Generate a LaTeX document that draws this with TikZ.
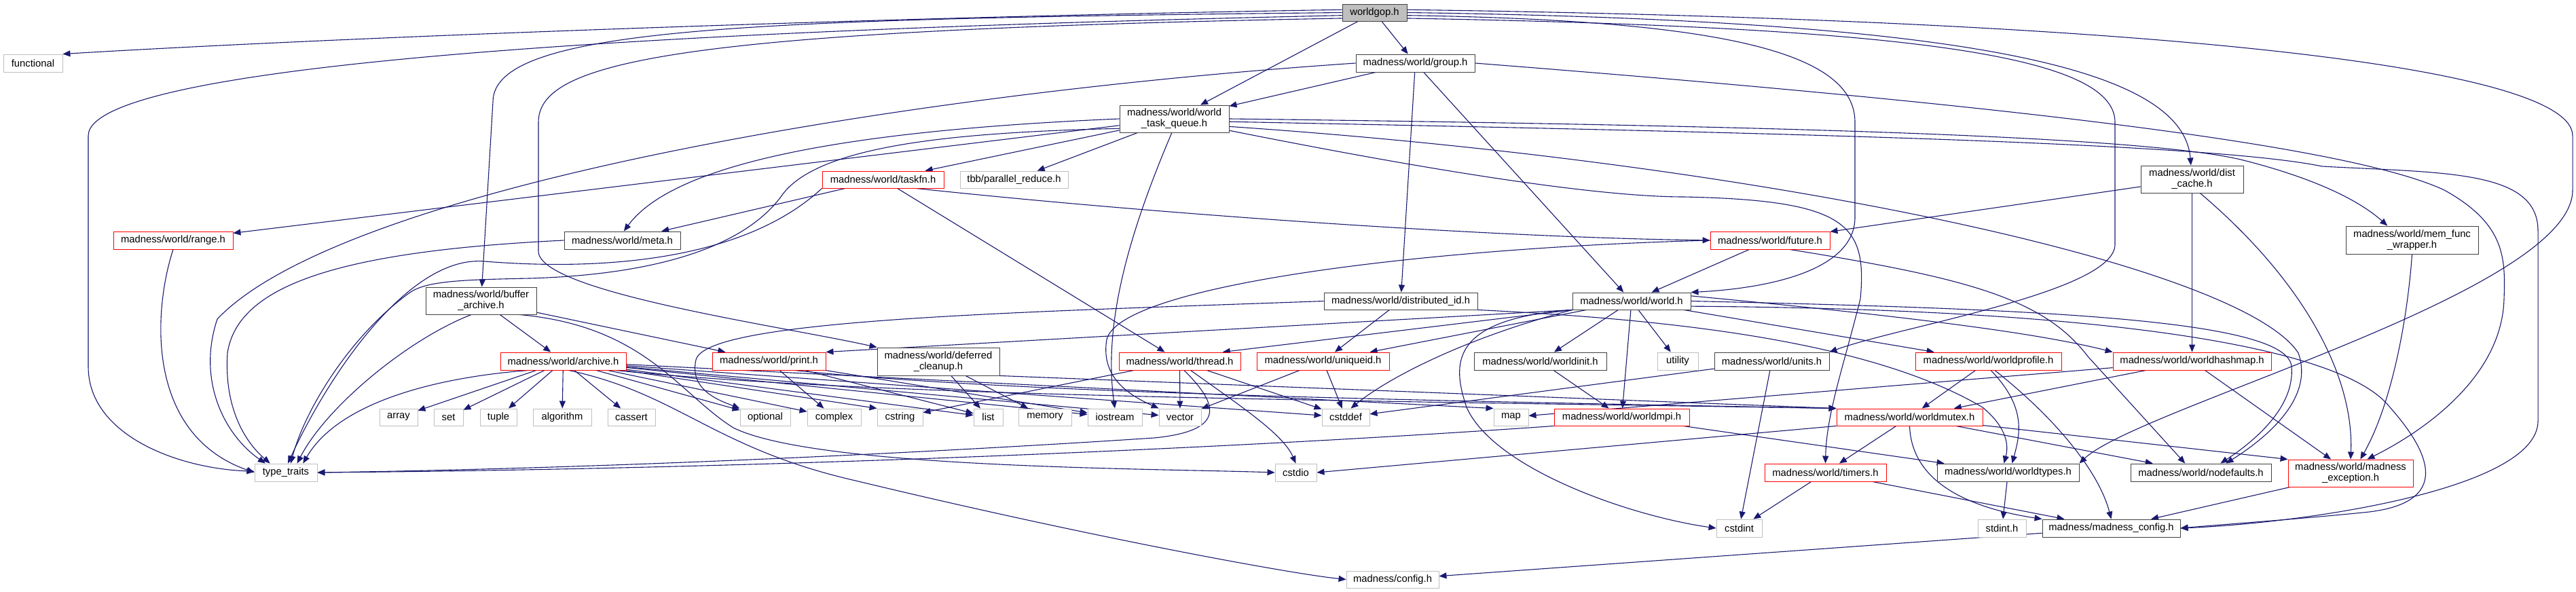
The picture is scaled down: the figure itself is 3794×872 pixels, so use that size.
\documentclass[tikz,border=0pt]{standalone}
\usepackage{fontspec}
\setmainfont{Liberation Sans}
\usetikzlibrary{arrows.meta,backgrounds}
\definecolor{edgeblue}{HTML}{191970}
\definecolor{boxgray}{HTML}{BFBFBF}
\definecolor{boxblack}{HTML}{404040}
\definecolor{boxred}{HTML}{FF0000}
\newcommand{\dgfont}{\fontsize{7.4pt}{8pt}\selectfont}
\begin{document}
\begin{tikzpicture}[x=0.5pt,y=-0.5pt,
  nb/.style={draw=boxblack, line width=0.45pt, fill=white, inner sep=0pt, align=center, font=\dgfont, text=black},
  nr/.style={nb, draw=boxred},
  ng/.style={nb, draw=boxgray},
  sz/.style 2 args={minimum width=#1, minimum height=#2},
  e/.style={draw=edgeblue, line width=0.55pt, -{Triangle[length=5.5pt,width=4.5pt]}}]
\useasboundingbox (0,0) rectangle (3794,872);
% ---------------- nodes ----------------
\node[nb,sz={47.5pt}{12.5pt},fill=boxgray] (gop) at (2024.5,18.5) {worldgop.h};
\node[ng,sz={43.5pt}{13pt}] (functional) at (48.5,93) {functional};
\node[nb,sz={87.5pt}{13pt}] (group) at (2084.5,93) {madness/world/group.h};
\node[nb,sz={80.5pt}{20pt}] (wtq) at (1729.5,175) {madness/world/world\\\_task\_queue.h};
\node[nr,sz={89.5pt}{12.5pt}] (taskfn) at (1300.5,264.5) {madness/world/taskfn.h};
\node[ng,sz={79.5pt}{12.5pt}] (tbb) at (1493.5,264.5) {tbb/parallel\_reduce.h};
\node[nb,sz={75.5pt}{20pt}] (distcache) at (3228.5,264) {madness/world/dist\\\_cache.h};
\node[nr,sz={88pt}{13pt}] (range) at (255,354) {madness/world/range.h};
\node[nb,sz={85.5pt}{13pt}] (meta) at (916.5,354) {madness/world/meta.h};
\node[nr,sz={88pt}{13pt}] (future) at (2607,354) {madness/world/future.h};
\node[nb,sz={97.5pt}{20.5pt}] (memfunc) at (3552.5,353.5) {madness/world/mem\_func\\\_wrapper.h};
\node[nb,sz={81.5pt}{20pt}] (buffer) at (708.5,443) {madness/world/buffer\\\_archive.h};
\node[nb,sz={113pt}{12.5pt}] (distid) at (2063,443.5) {madness/world/distributed\_id.h};
\node[nb,sz={87pt}{12.5pt}] (world) at (2403,443.5) {madness/world/world.h};
\node[nr,sz={92.5pt}{13pt}] (archive) at (829.5,532) {madness/world/archive.h};
\node[nr,sz={83.5pt}{13pt}] (print) at (1132.5,532) {madness/world/print.h};
\node[nb,sz={90pt}{20.5pt}] (deferred) at (1382,532.5) {madness/world/deferred\\\_cleanup.h};
\node[nr,sz={89.5pt}{13pt}] (thread) at (1737.5,532) {madness/world/thread.h};
\node[nr,sz={97.5pt}{13pt}] (uniqueid) at (1948.5,532) {madness/world/uniqueid.h};
\node[nb,sz={97.5pt}{13pt}] (worldinit) at (2268.5,532) {madness/world/worldinit.h};
\node[ng,sz={30pt}{13pt}] (utility) at (2471,532) {utility};
\node[nb,sz={84.5pt}{13pt}] (units) at (2609.5,532) {madness/world/units.h};
\node[nr,sz={107.5pt}{13pt}] (profile) at (2928.5,532) {madness/world/worldprofile.h};
\node[nr,sz={116.5pt}{13pt}] (hashmap) at (3228.5,532) {madness/world/worldhashmap.h};
\node[ng,sz={28pt}{12.5pt}] (array) at (587,614.5) {array};
\node[ng,sz={21.5pt}{12.5pt}] (set) at (660.5,614.5) {set};
\node[ng,sz={27pt}{12.5pt}] (tuple) at (734,614.5) {tuple};
\node[ng,sz={43pt}{12.5pt}] (algorithm) at (828,614.5) {algorithm};
\node[ng,sz={35pt}{12.5pt}] (cassert) at (930,614.5) {cassert};
\node[ng,sz={37pt}{12.5pt}] (optional) at (1127,614.5) {optional};
\node[ng,sz={39.5pt}{12.5pt}] (complex) at (1228.5,614.5) {complex};
\node[ng,sz={33.5pt}{12.5pt}] (cstring) at (1325.5,614.5) {cstring};
\node[ng,sz={21.5pt}{12.5pt}] (list) at (1455.5,614.5) {list};
\node[ng,sz={39pt}{12.5pt}] (memory) at (1539,614.5) {memory};
\node[ng,sz={40pt}{12.5pt}] (iostream) at (1642,614.5) {iostream};
\node[ng,sz={31pt}{12.5pt}] (vector) at (1738,614.5) {vector};
\node[ng,sz={35pt}{12.5pt}] (cstddef) at (1982,614.5) {cstddef};
\node[ng,sz={25.5pt}{12.5pt}] (map) at (2225.5,614.5) {map};
\node[nr,sz={99.5pt}{12.5pt}] (worldmpi) at (2388.5,614.5) {madness/world/worldmpi.h};
\node[nr,sz={107.5pt}{12.5pt}] (mutex) at (2812.5,614.5) {madness/world/worldmutex.h};
\node[ng,sz={46pt}{13pt}] (typetraits) at (421,696) {type\_traits};
\node[ng,sz={30.5pt}{13pt}] (cstdio) at (1908.5,696) {cstdio};
\node[nr,sz={89.5pt}{13pt}] (timers) at (2688.5,696) {madness/world/timers.h};
\node[nb,sz={104.5pt}{13pt}] (worldtypes) at (2957.5,696) {madness/world/worldtypes.h};
\node[nb,sz={103.5pt}{13pt}] (nodefaults) at (3241.5,696) {madness/world/nodefaults.h};
\node[nr,sz={92pt}{20pt}] (mexc) at (3462,697) {madness/world/madness\\\_exception.h};
\node[ng,sz={33.5pt}{13pt}] (cstdint) at (2561.5,778) {cstdint};
\node[ng,sz={35.5pt}{13pt}] (stdint) at (2948.5,778) {stdint.h};
\node[nb,sz={101.5pt}{13pt}] (mconfig) at (3109.5,778) {madness/madness\_config.h};
\node[ng,sz={68pt}{12.5pt}] (config) at (2051,853.5) {madness/config.h};
% ---------------- edges ----------------
\begin{pgfonlayer}{background}
\fill[white] (0,0) rectangle (3794,872);
\foreach \a/\b in {gop/wtq, gop/group, group/wtq, group/distid, group/world,
  wtq/taskfn, wtq/tbb, wtq/range, taskfn/meta, taskfn/thread,
  distcache/future, distcache/hashmap, future/world, buffer/archive, buffer/print,
  distid/uniqueid, world/worldinit, world/worldmpi, world/utility, world/uniqueid, world/profile,
  archive/array, archive/set, archive/tuple, archive/algorithm, archive/cassert,
  archive/optional, archive/complex, archive/list, archive/iostream, archive/vector, archive/cstddef,
  print/complex, print/list, print/iostream, deferred/list, deferred/memory,
  thread/vector, thread/cstring, thread/cstddef, uniqueid/cstddef, uniqueid/vector,
  worldinit/worldmpi, units/cstdint, units/cstddef, profile/mutex, hashmap/mutex, hashmap/map,
  hashmap/mexc, worldmpi/worldtypes, mutex/timers, mutex/nodefaults, timers/cstdint,
  timers/mconfig, worldtypes/stdint, mexc/mconfig, mconfig/config}
  \draw[e] (\a) -- (\b);
% worldgop
\draw[e] (gop.175) .. controls (1300,25) and (500,55) .. (functional.north east);
\draw[e] (gop.185) .. controls (1200,40) and (130,80) .. (130,200) -- (130,540) .. controls (130,640) and (260,690) .. (typetraits);
\draw[e] (gop.180) .. controls (1100,28) and (726,40) .. (726,150) -- (buffer);
\draw[e] (gop.190) .. controls (1000,45) and (793,90) .. (793,180) -- (793,370) .. controls (793,430) and (1150,480) .. (deferred.north west);
\draw[e] (gop.-5) .. controls (2550,30) and (2732,80) .. (2732,180) -- (2732,320) .. controls (2732,400) and (2600,425) .. (world.north east);
\draw[e] (gop.-10) .. controls (2800,40) and (3115,80) .. (3115,180) -- (3115,360) .. controls (3115,430) and (2800,480) .. (units.north east);
\draw[e] (gop.0) .. controls (2900,30) and (3215,100) .. (distcache);
\draw[e] (gop.5) .. controls (3200,30) and (3789,100) .. (3789,200) -- (3789,280) .. controls (3789,430) and (3150,600) .. (worldtypes.north east);
% group
\draw[e] (group.west) .. controls (1300,140) and (500,280) .. (320,470) .. controls (290,560) and (330,640) .. (typetraits.156);
\draw[e] (group.east) .. controls (2900,150) and (3450,210) .. (3600,280) .. controls (3690,330) and (3690,380) .. (3688,440) .. controls (3685,560) and (3560,640) .. (mexc.40);
% world_task_queue
\draw[e] (wtq.west) .. controls (1300,190) and (1000,230) .. (meta.80);
\draw[e] (wtq.190) .. controls (1400,195) and (1200,215) .. (1150,290) .. controls (1090,370) and (950,405) .. (780,410) .. controls (680,412) and (630,414) .. (605,430) .. controls (520,490) and (450,600) .. (typetraits.62);
\draw[e] (wtq.-100) .. controls (1660,350) and (1625,480) .. (iostream.north);
\draw[e] (wtq.0) .. controls (2600,185) and (3150,200) .. (3300,235) .. controls (3420,265) and (3480,300) .. (memfunc.150);
\draw[e] (wtq.-3) .. controls (2600,195) and (3250,210) .. (3420,245) .. controls (3600,255) and (3738,250) .. (3738,340) -- (3738,620) .. controls (3738,720) and (3400,770) .. (mconfig.east);
\draw[e] (wtq.-8) .. controls (2600,240) and (3300,390) .. (3385,520) .. controls (3410,590) and (3330,650) .. (nodefaults.20);
\draw[e] (wtq.-12) .. controls (2100,250) and (2350,290) .. (2480,290) .. controls (2720,295) and (2750,330) .. (2740,440) .. controls (2715,540) and (2690,610) .. (timers.north);
% taskfn
\draw[e] (taskfn.-15) .. controls (1700,315) and (2200,350) .. (future.west);
\draw[e] (taskfn.south west) .. controls (1100,380) and (900,400) .. (714,385) .. controls (600,375) and (480,560) .. (typetraits.77);
% into type_traits
\draw[e] (meta.west) .. controls (500,370) and (350,420) .. (335,520) .. controls (330,600) and (360,650) .. (typetraits.150);
\draw[e] (range.south) .. controls (225,460) and (215,640) .. (typetraits.west);
\draw[e] (buffer.-125) .. controls (600,500) and (480,600) .. (typetraits.39);
\draw[e] (archive.-165) .. controls (650,555) and (500,590) .. (typetraits.28);
\draw[e] (thread.-65) .. controls (1800,600) and (1800,635) .. (1700,645) .. controls (1400,665) and (900,690) .. (typetraits.east);
\draw[e] (worldmpi.south west) .. controls (1900,655) and (1200,690) .. (typetraits.east);
% future
\draw[e] (future.west) .. controls (2100,365) and (1650,420) .. (1630,500) .. controls (1620,560) and (1670,585) .. (vector.north west);
\draw[e] (future.-25) .. controls (2900,410) and (3010,440) .. (3075,525) -- (nodefaults.150);
% dist_cache, mem_func_wrapper
\draw[e] (distcache.-60) .. controls (3400,420) and (3467,560) .. (mexc.north);
\draw[e] (memfunc.south) .. controls (3545,480) and (3520,600) .. (mexc.55);
% buffer_archive, archive, print, deferred
\draw[e] (buffer.-20) .. controls (950,480) and (1000,580) .. (1080,630) .. controls (1200,690) and (1700,690) .. (cstdio.west);
\draw[e] (archive.-60) .. controls (1000,580) and (1050,660) .. (1260,708) .. controls (1600,790) and (1900,845) .. (config.west);
\draw[e] (archive) -- (cstring.north west);
\draw[e] (archive) -- (map.north west);
\draw[e] (archive.-10) .. controls (1300,585) and (2000,590) .. (mutex.north west);
\draw[e] (print.-20) .. controls (1500,580) and (2100,590) .. (mutex.north west);
\draw[e] (deferred.south east) -- (mutex.north west);
% world
\draw[e] (world.south west) -- (print.north east);
\draw[e] (world.south west) -- (thread.12);
\draw[e] (world.south west) .. controls (2150,500) and (2040,560) .. (cstddef.60);
\draw[e] (world.south west) .. controls (2130,470) and (2140,540) .. (2160,600) .. controls (2200,690) and (2400,760) .. (cstdint.west);
\draw[e] (world.5) .. controls (2800,465) and (3000,490) .. (hashmap.north west);
\draw[e] (world.0) .. controls (3000,455) and (3370,470) .. (3375,540) .. controls (3380,600) and (3320,650) .. (nodefaults.25);
\draw[e] (world.-5) .. controls (3100,455) and (3450,510) .. (3520,600) .. controls (3600,690) and (3590,745) .. (3480,755) .. controls (3380,765) and (3280,772) .. (mconfig.east);
% distributed_id
\draw[e] (distid.west) .. controls (1500,460) and (1040,470) .. (1025,530) .. controls (1015,575) and (1060,590) .. (optional.north west);
\draw[e] (distid.south east) .. controls (2450,470) and (2750,500) .. (2920,600) .. controls (2950,625) and (2960,650) .. ([xshift=-3pt]worldtypes.north);
% worldprofile, worldmutex, thread
\draw[e] (profile.-75) .. controls (2985,600) and (2975,640) .. ([xshift=3pt]worldtypes.north);
\draw[e] (profile.-55) .. controls (3020,610) and (3090,690) .. (mconfig.north);
\draw[e] (mutex.south) .. controls (2815,700) and (2880,745) .. (mconfig.north west);
\draw[e] (mutex.south west) -- (cstdio.east);
\draw[e] (mutex) -- (mexc.north west);
\draw[e] (thread.-40) .. controls (1830,600) and (1890,640) .. (cstdio.north);
\end{pgfonlayer}
\end{tikzpicture}
\end{document}
